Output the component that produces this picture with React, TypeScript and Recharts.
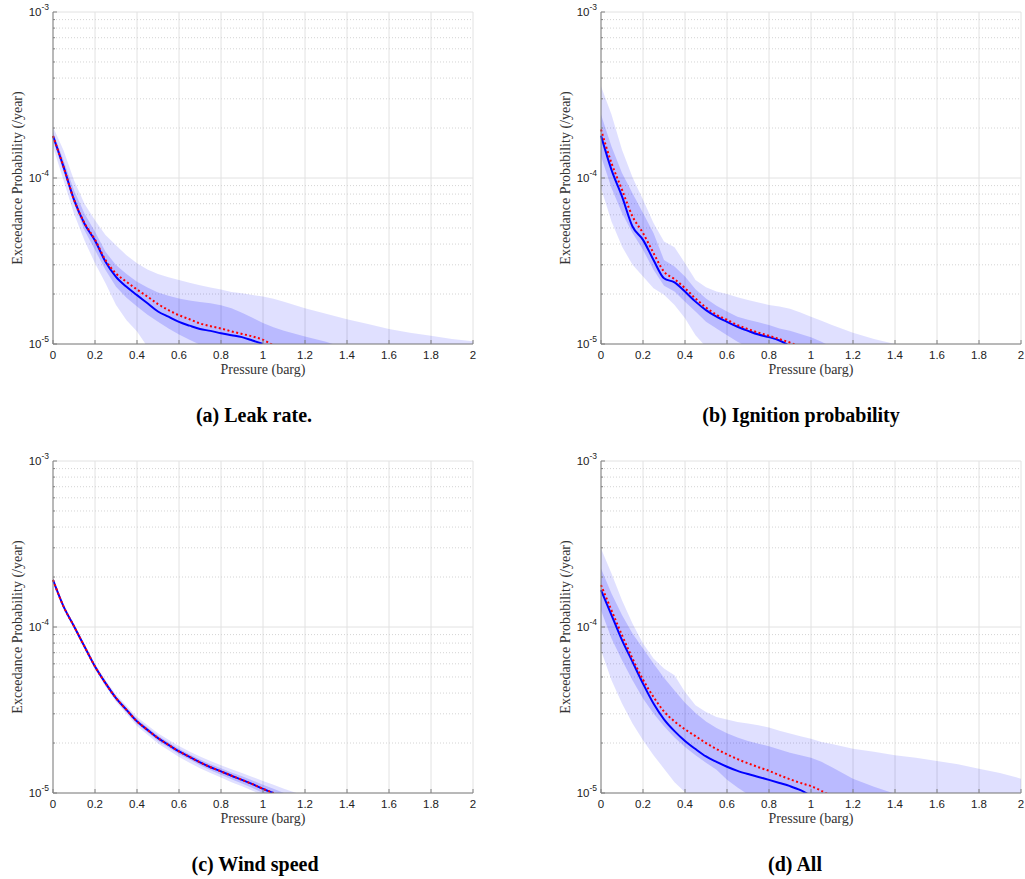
import { ComposedChart, Area, Line, XAxis, YAxis, CartesianGrid } from "recharts";

// pressure grid (barg) shared by every panel
const pressure = [0, 0.05, 0.1, 0.15, 0.2, 0.25, 0.3, 0.35, 0.4, 0.45, 0.5, 0.55, 0.6, 0.65, 0.7, 0.75, 0.8, 0.85, 0.9, 0.95, 1.0, 1.05, 1.1, 1.2, 1.3, 1.4, 1.5, 1.6, 1.7, 1.8, 1.9, 2.0];

const N = null;
const B = 5e-6; // below the axis floor, clipped

// (a) Leak rate
const leakMedian = [1.79e-4, 1.17e-4, 7.4e-5, 5.3e-5, 4.2e-5, 3.13e-5, 2.54e-5, 2.21e-5, 1.97e-5, 1.76e-5, 1.57e-5, 1.46e-5, 1.36e-5, 1.29e-5, 1.23e-5, 1.2e-5, 1.16e-5, 1.13e-5, 1.1e-5, 1.05e-5, 1.0e-5, N, N, N, N, N, N, N, N, N, N, N];
const leakMean = [1.79e-4, 1.17e-4, 7.4e-5, 5.35e-5, 4.25e-5, 3.2e-5, 2.66e-5, 2.37e-5, 2.13e-5, 1.93e-5, 1.74e-5, 1.6e-5, 1.49e-5, 1.41e-5, 1.33e-5, 1.28e-5, 1.24e-5, 1.19e-5, 1.15e-5, 1.11e-5, 1.06e-5, 9.8e-6, N, N, N, N, N, N, N, N, N, N];
const leakOuterHi = [2.03e-4, 1.47e-4, 9.7e-5, 7.0e-5, 5.57e-5, 4.53e-5, 3.94e-5, 3.43e-5, 3.06e-5, 2.81e-5, 2.64e-5, 2.52e-5, 2.43e-5, 2.34e-5, 2.26e-5, 2.19e-5, 2.13e-5, 2.06e-5, 2.02e-5, 1.97e-5, 1.93e-5, 1.87e-5, 1.8e-5, 1.64e-5, 1.52e-5, 1.41e-5, 1.32e-5, 1.23e-5, 1.17e-5, 1.12e-5, 1.07e-5, 1.04e-5];
const leakOuterLo = [1.54e-4, 9.7e-5, 6.1e-5, 4.2e-5, 3.06e-5, 2.32e-5, 1.72e-5, 1.39e-5, 1.19e-5, 9.6e-6, B, B, B, B, B, B, B, B, B, B, B, B, B, B, B, B, B, B, B, B, B, B];
const leakInnerHi = [1.9e-4, 1.28e-4, 8.45e-5, 6.11e-5, 4.74e-5, 3.59e-5, 2.99e-5, 2.64e-5, 2.37e-5, 2.19e-5, 2.04e-5, 1.95e-5, 1.88e-5, 1.83e-5, 1.79e-5, 1.76e-5, 1.71e-5, 1.64e-5, 1.54e-5, 1.44e-5, 1.34e-5, 1.26e-5, 1.2e-5, 1.11e-5, 1.03e-5, 9.4e-6, B, B, B, B, B, B];
const leakInnerLo = [1.69e-4, 1.09e-4, 7.0e-5, 4.85e-5, 3.68e-5, 2.79e-5, 2.21e-5, 1.9e-5, 1.68e-5, 1.5e-5, 1.36e-5, 1.24e-5, 1.14e-5, 1.06e-5, 9.9e-6, B, B, B, B, B, B, B, B, B, B, B, B, B, B, B, B, B];

// (b) Ignition probability
const ignMedian = [1.8e-4, 1.12e-4, 7.75e-5, 5.1e-5, 4.24e-5, 3.21e-5, 2.49e-5, 2.35e-5, 2.07e-5, 1.8e-5, 1.6e-5, 1.46e-5, 1.36e-5, 1.27e-5, 1.2e-5, 1.14e-5, 1.1e-5, 1.05e-5, 9.7e-6, N, N, N, N, N, N, N, N, N, N, N, N, N];
const ignMean = [1.96e-4, 1.23e-4, 8.5e-5, 5.87e-5, 4.66e-5, 3.53e-5, 2.73e-5, 2.46e-5, 2.17e-5, 1.88e-5, 1.66e-5, 1.5e-5, 1.4e-5, 1.3e-5, 1.23e-5, 1.17e-5, 1.12e-5, 1.07e-5, 1.02e-5, 9.6e-6, N, N, N, N, N, N, N, N, N, N, N, N];
const ignOuterHi = [3.57e-4, 2.41e-4, 1.48e-4, 1.01e-4, 7.4e-5, 5.35e-5, 4.15e-5, 3.83e-5, 3.07e-5, 2.43e-5, 2.2e-5, 2.07e-5, 2.0e-5, 1.91e-5, 1.84e-5, 1.78e-5, 1.72e-5, 1.68e-5, 1.63e-5, 1.55e-5, 1.46e-5, 1.38e-5, 1.3e-5, 1.17e-5, 1.07e-5, 1.0e-5, 8e-6, B, B, B, B, B];
const ignOuterLo = [8.7e-5, 5.47e-5, 3.87e-5, 3.0e-5, 2.55e-5, 2.17e-5, 1.98e-5, 1.72e-5, 1.43e-5, 1.13e-5, 9.6e-6, B, B, B, B, B, B, B, B, B, B, B, B, B, B, B, B, B, B, B, B, B];
const ignInnerHi = [2.41e-4, 1.55e-4, 1.07e-4, 8.1e-5, 6.15e-5, 4.66e-5, 3.21e-5, 2.93e-5, 2.55e-5, 2.14e-5, 1.88e-5, 1.7e-5, 1.57e-5, 1.46e-5, 1.4e-5, 1.35e-5, 1.3e-5, 1.24e-5, 1.2e-5, 1.15e-5, 1.1e-5, 1.03e-5, 9.6e-6, B, B, B, B, B, B, B, B, B];
const ignInnerLo = [1.35e-4, 8.7e-5, 6.15e-5, 4.66e-5, 3.69e-5, 2.8e-5, 2.24e-5, 2.07e-5, 1.8e-5, 1.57e-5, 1.36e-5, 1.24e-5, 1.13e-5, 1.03e-5, 9.6e-6, B, B, B, B, B, B, B, B, B, B, B, B, B, B, B, B, B];

// (c) Wind speed
const windMedian = [1.92e-4, 1.33e-4, 1.01e-4, 7.63e-5, 5.78e-5, 4.59e-5, 3.73e-5, 3.17e-5, 2.7e-5, 2.4e-5, 2.14e-5, 1.95e-5, 1.78e-5, 1.65e-5, 1.53e-5, 1.43e-5, 1.35e-5, 1.27e-5, 1.2e-5, 1.13e-5, 1.06e-5, 1.0e-5, N, N, N, N, N, N, N, N, N, N];
const windMean = [1.92e-4, 1.33e-4, 1.01e-4, 7.63e-5, 5.78e-5, 4.59e-5, 3.73e-5, 3.17e-5, 2.7e-5, 2.4e-5, 2.14e-5, 1.95e-5, 1.78e-5, 1.65e-5, 1.53e-5, 1.43e-5, 1.35e-5, 1.27e-5, 1.2e-5, 1.13e-5, 1.06e-5, 1.0e-5, N, N, N, N, N, N, N, N, N, N];
const windOuterHi = [1.95e-4, 1.36e-4, 1.04e-4, 7.9e-5, 6.0e-5, 4.8e-5, 3.92e-5, 3.35e-5, 2.87e-5, 2.56e-5, 2.29e-5, 2.09e-5, 1.92e-5, 1.78e-5, 1.66e-5, 1.56e-5, 1.47e-5, 1.39e-5, 1.32e-5, 1.25e-5, 1.18e-5, 1.12e-5, 1.06e-5, 9.6e-6, B, B, B, B, B, B, B, B];
const windOuterLo = [1.89e-4, 1.3e-4, 9.8e-5, 7.35e-5, 5.55e-5, 4.38e-5, 3.54e-5, 2.99e-5, 2.53e-5, 2.24e-5, 1.99e-5, 1.81e-5, 1.65e-5, 1.52e-5, 1.41e-5, 1.32e-5, 1.24e-5, 1.16e-5, 1.1e-5, 1.03e-5, 9.7e-6, B, B, B, B, B, B, B, B, B, B, B];
const windInnerHi = [1.93e-4, 1.34e-4, 1.02e-4, 7.75e-5, 5.9e-5, 4.7e-5, 3.83e-5, 3.26e-5, 2.79e-5, 2.48e-5, 2.22e-5, 2.02e-5, 1.85e-5, 1.71e-5, 1.59e-5, 1.49e-5, 1.41e-5, 1.33e-5, 1.26e-5, 1.19e-5, 1.12e-5, 1.06e-5, 1.0e-5, 8.8e-6, B, B, B, B, B, B, B, B];
const windInnerLo = [1.91e-4, 1.32e-4, 1.0e-4, 7.5e-5, 5.66e-5, 4.48e-5, 3.63e-5, 3.08e-5, 2.61e-5, 2.32e-5, 2.06e-5, 1.88e-5, 1.71e-5, 1.59e-5, 1.47e-5, 1.37e-5, 1.29e-5, 1.21e-5, 1.14e-5, 1.07e-5, 1.0e-5, 9.4e-6, B, B, B, B, B, B, B, B, B, B];

// (d) All
const allMedian = [1.67e-4, 1.18e-4, 8.33e-5, 6.17e-5, 4.56e-5, 3.46e-5, 2.78e-5, 2.36e-5, 2.06e-5, 1.84e-5, 1.66e-5, 1.54e-5, 1.44e-5, 1.36e-5, 1.3e-5, 1.25e-5, 1.2e-5, 1.15e-5, 1.1e-5, 1.04e-5, 9.6e-6, N, N, N, N, N, N, N, N, N, N, N];
const allMean = [1.79e-4, 1.26e-4, 8.93e-5, 6.46e-5, 4.82e-5, 3.79e-5, 3.1e-5, 2.7e-5, 2.42e-5, 2.2e-5, 2.0e-5, 1.84e-5, 1.71e-5, 1.6e-5, 1.51e-5, 1.43e-5, 1.36e-5, 1.28e-5, 1.21e-5, 1.15e-5, 1.1e-5, 1.03e-5, 9.5e-6, N, N, N, N, N, N, N, N, N];
const allOuterHi = [2.97e-4, 2.1e-4, 1.45e-4, 1.05e-4, 7.95e-5, 6.46e-5, 5.62e-5, 5.12e-5, 4.06e-5, 3.38e-5, 3.08e-5, 2.87e-5, 2.77e-5, 2.68e-5, 2.62e-5, 2.56e-5, 2.48e-5, 2.37e-5, 2.28e-5, 2.2e-5, 2.12e-5, 2.03e-5, 1.97e-5, 1.85e-5, 1.77e-5, 1.69e-5, 1.63e-5, 1.56e-5, 1.49e-5, 1.4e-5, 1.32e-5, 1.22e-5];
const allOuterLo = [7.25e-5, 4.78e-5, 3.46e-5, 2.62e-5, 2.08e-5, 1.69e-5, 1.4e-5, 1.16e-5, 1.01e-5, 9.0e-6, B, B, B, B, B, B, B, B, B, B, B, B, B, B, B, B, B, B, B, B, B, B];
const allInnerHi = [2.25e-4, 1.59e-4, 1.18e-4, 9.14e-5, 7.42e-5, 6.03e-5, 4.95e-5, 4.15e-5, 3.5e-5, 3.03e-5, 2.7e-5, 2.46e-5, 2.29e-5, 2.16e-5, 2.06e-5, 1.98e-5, 1.91e-5, 1.83e-5, 1.75e-5, 1.69e-5, 1.63e-5, 1.54e-5, 1.43e-5, 1.22e-5, 1.09e-5, 9.9e-6, 8e-6, B, B, B, B, B];
const allInnerLo = [1.26e-4, 8.53e-5, 6.31e-5, 4.78e-5, 3.71e-5, 3.01e-5, 2.52e-5, 2.16e-5, 1.89e-5, 1.69e-5, 1.52e-5, 1.38e-5, 1.2e-5, 1.08e-5, 9.8e-6, B, B, B, B, B, B, B, B, B, B, B, B, B, B, B, B, B];

const xTicks = [0, 0.2, 0.4, 0.6, 0.8, 1, 1.2, 1.4, 1.6, 1.8, 2];
const decades = [1e-5, 1e-4, 1e-3];
const minorValues = [2e-5, 3e-5, 4e-5, 5e-5, 6e-5, 7e-5, 8e-5, 9e-5, 2e-4, 3e-4, 4e-4, 5e-4, 6e-4, 7e-4, 8e-4, 9e-4];
const yTicks = [...decades, ...minorValues].sort((a, b) => a - b);

const AXIS = "#808080";
const SANS = "'Liberation Sans', Arial, sans-serif";
const SERIF = "'Liberation Serif', 'Times New Roman', serif";

type Series = {
  median: (number | null)[];
  mean: (number | null)[];
  outerLo: number[];
  outerHi: number[];
  innerLo: number[];
  innerHi: number[];
};

function buildRows(s: Series) {
  return pressure.map((p, i) => ({
    p,
    median: s.median[i],
    mean: s.mean[i],
    outer: [s.outerLo[i], s.outerHi[i]],
    inner: [s.innerLo[i], s.innerHi[i]],
  }));
}

function YTick({ x, y, payload }: any) {
  const v = payload.value;
  const major = decades.includes(v);
  const exp = Math.round(Math.log10(v));
  return (
    <g>
      <line x1={x} x2={x + (major ? 4 : 2)} y1={y} y2={y} stroke={AXIS} />
      {major && (
        <text x={x - 4} y={y + 4} textAnchor="end" fontSize={11.5} fontFamily={SANS} fill="#222">
          10
          <tspan dy={-6} fontSize={8.5}>
            {exp}
          </tspan>
        </text>
      )}
    </g>
  );
}

function XTick({ x, y, payload }: any) {
  return (
    <g>
      <line x1={x} x2={x} y1={y} y2={y - 4} stroke={AXIS} />
      <text x={x} y={y + 15} textAnchor="middle" fontSize={11.5} fontFamily={SANS} fill="#222">
        {String(payload.value)}
      </text>
    </g>
  );
}

function Panel({ left, top, series, caption, captionCenter }: { left: number; top: number; series: Series; caption: string; captionCenter: number }) {
  const rows = buildRows(series);
  return (
    <>
      <div style={{ position: "absolute", left, top }}>
        <ComposedChart width={477} height={380} data={rows} margin={{ top: 12, right: 4, bottom: 0, left: 0 }}>
          <CartesianGrid stroke="#e2e2e2" horizontalValues={decades} verticalValues={xTicks} />
          <CartesianGrid stroke="#d4d4d4" strokeDasharray="1 2" vertical={false} horizontalValues={minorValues} />
          <XAxis
            dataKey="p"
            type="number"
            domain={[0, 2]}
            ticks={xTicks}
            interval={0}
            height={36}
            tickSize={0}
            tickMargin={0}
            tickLine={false}
            axisLine={{ stroke: AXIS }}
            tick={<XTick />}
            label={{ value: "Pressure (barg)", position: "insideBottom", offset: 6, fontSize: 14, fontFamily: SERIF, fill: "#333" }}
          />
          <YAxis
            type="number"
            scale="log"
            domain={[1e-5, 1e-3]}
            allowDataOverflow
            ticks={yTicks}
            interval={0}
            width={53}
            tickSize={0}
            tickMargin={0}
            tickLine={false}
            axisLine={{ stroke: AXIS }}
            tick={<YTick />}
            label={{
              value: "Exceedance Probability (/year)",
              angle: -90,
              position: "insideLeft",
              offset: 17,
              fontSize: 14,
              fontFamily: SERIF,
              fill: "#333",
              style: { textAnchor: "middle" },
            }}
          />
          <Area type="linear" dataKey="outer" stroke="none" fill="#0000ff" fillOpacity={0.12} isAnimationActive={false} />
          <Area type="linear" dataKey="inner" stroke="none" fill="#0000ff" fillOpacity={0.17} isAnimationActive={false} />
          <Line type="monotone" dataKey="median" stroke="#0000ff" strokeWidth={2} dot={false} isAnimationActive={false} />
          <Line type="monotone" dataKey="mean" stroke="#ff0000" strokeWidth={2} strokeDasharray="2 2.5" dot={false} isAnimationActive={false} />
        </ComposedChart>
      </div>
      <div
        style={{
          position: "absolute",
          left: captionCenter - 200,
          top: top + 403,
          width: 400,
          textAlign: "center",
          fontFamily: SERIF,
          fontWeight: "bold",
          fontSize: 20,
          lineHeight: "24px",
          color: "#000",
        }}
      >
        {caption}
      </div>
    </>
  );
}

export default function App() {
  return (
    <div style={{ position: "absolute", left: 0, top: 0, width: 1025, height: 879, background: "#fff", overflow: "hidden" }}>
      <Panel
        left={0}
        top={0}
        captionCenter={254}
        caption="(a) Leak rate."
        series={{ median: leakMedian, mean: leakMean, outerLo: leakOuterLo, outerHi: leakOuterHi, innerLo: leakInnerLo, innerHi: leakInnerHi }}
      />
      <Panel
        left={548}
        top={0}
        captionCenter={801}
        caption="(b) Ignition probability"
        series={{ median: ignMedian, mean: ignMean, outerLo: ignOuterLo, outerHi: ignOuterHi, innerLo: ignInnerLo, innerHi: ignInnerHi }}
      />
      <Panel
        left={0}
        top={449}
        captionCenter={255}
        caption="(c) Wind speed"
        series={{ median: windMedian, mean: windMean, outerLo: windOuterLo, outerHi: windOuterHi, innerLo: windInnerLo, innerHi: windInnerHi }}
      />
      <Panel
        left={548}
        top={449}
        captionCenter={795}
        caption="(d) All"
        series={{ median: allMedian, mean: allMean, outerLo: allOuterLo, outerHi: allOuterHi, innerLo: allInnerLo, innerHi: allInnerHi }}
      />
    </div>
  );
}
